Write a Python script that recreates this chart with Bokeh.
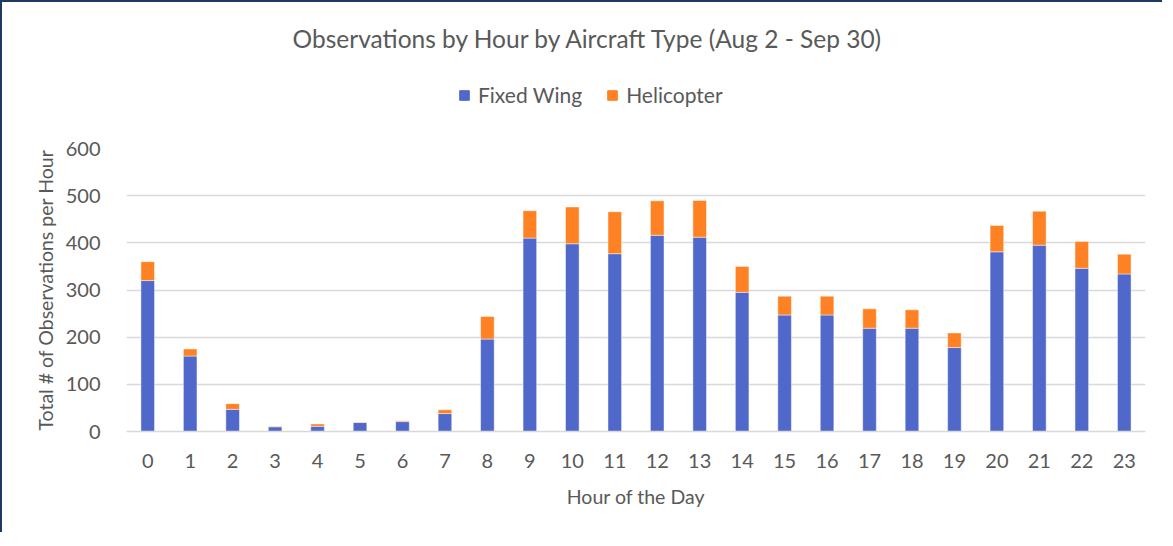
from bokeh.plotting import figure
from bokeh.models import ColumnDataSource, Legend, LegendItem, Label, FactorRange, CDSView, IndexFilter
from bokeh.layouts import column
from bokeh.embed import file_html
from bokeh.resources import INLINE

hours = [str(h) for h in range(24)]
fixed_wing = [320, 160, 47, 10, 11, 19, 21, 38, 196, 410, 398, 377, 416, 412, 295, 247, 247, 219, 219, 178, 381, 395, 346, 334]
helicopter = [40, 15, 12, 1, 5, 1, 2, 8, 48, 58, 78, 89, 73, 78, 55, 40, 40, 41, 39, 31, 56, 72, 57, 42]
series = ["Fixed Wing", "Helicopter"]
colors = ["#4F68C9", "#FE8223"]
y_ticks = [0, 100, 200, 300, 400, 500, 600]
title_text = "Observations by Hour by Aircraft Type (Aug 2 - Sep 30)"

FONT = "Lato"
TXT = "#595959"
W = 1160
HEAD_H = 110
MAIN_H = 420

src = ColumnDataSource(dict(hour=hours, fixed=fixed_wing, heli=helicopter))

# ---- header: title + legend ----
head = figure(width=W, height=HEAD_H, x_range=(0, 1), y_range=(0, 1),
              output_backend="svg", toolbar_location=None,
              min_border=0, min_border_left=124, min_border_right=17,
              min_border_top=0, min_border_bottom=0)
head.axis.visible = False
head.grid.visible = False
head.outline_line_color = None
head.border_fill_color = "white"
# legend-swatch renderers (hidden; they only provide the legend swatches)
one = CDSView(filter=IndexFilter(indices=[0]))
swatches = [head.vbar(x="fixed", top=col, width=0.3, color=c, source=src, view=one, visible=False)
            for col, c in zip(["fixed", "heli"], colors)]
legend = Legend(items=[LegendItem(label=s, renderers=[d]) for s, d in zip(series, swatches)],
                orientation="horizontal", location=(332, 5),
                glyph_width=12, glyph_height=12, label_standoff=8, spacing=24,
                padding=0, margin=0, border_line_color=None, background_fill_alpha=0,
                label_text_font=FONT, label_text_font_size="21px", label_text_color=TXT)
head.add_layout(legend, "center")
head.add_layout(Label(x=462, y=74, x_units="screen", y_units="screen", text=title_text,
                      text_align="center", text_baseline="middle",
                      text_font=FONT, text_font_size="24.5px", text_color=TXT))

# ---- main chart ----
p = figure(width=W, height=MAIN_H, x_range=FactorRange(*hours), y_range=(0, 600),
           output_backend="svg", toolbar_location=None,
           min_border_left=124, min_border_right=17, min_border_top=36, min_border_bottom=101)
p.outline_line_color = None
p.background_fill_color = "white"
p.border_fill_color = "white"

r = p.vbar_stack(["fixed", "heli"], x="hour", width=0.32, source=src,
                 color=colors, line_color="white", line_alpha=0.45, line_width=1)

p.xgrid.grid_line_color = None
p.ygrid.grid_line_color = "#D9D9D9"
p.ygrid.grid_line_width = 1.5
p.yaxis.ticker = y_ticks

p.yaxis.axis_line_color = None
p.yaxis.major_tick_line_color = None
p.yaxis.minor_tick_line_color = None
p.xaxis.axis_line_color = "#D9D9D9"
p.xaxis.axis_line_width = 1.5
p.xaxis.major_tick_line_color = None
p.xaxis.minor_tick_line_color = None

for ax in (p.xaxis, p.yaxis):
    ax.major_label_text_font = FONT
    ax.major_label_text_font_size = "20px"
    ax.major_label_text_color = TXT
    ax.axis_label_text_font = FONT
    ax.axis_label_text_font_size = "19.5px"
    ax.axis_label_text_font_style = "normal"
    ax.axis_label_text_color = TXT

p.xaxis.major_label_standoff = 16
p.yaxis.major_label_standoff = 20
p.xaxis.axis_label = "Hour of the Day"
p.yaxis.axis_label = "Total # of Observations per Hour"
p.xaxis.axis_label_standoff = 14
p.yaxis.axis_label_standoff = 6

layout = column(head, p, spacing=0)
layout.styles = {"border-left": "2px solid #1F3864", "border-top": "2px solid #1F3864"}

open("out.html", "w").write(file_html(layout, INLINE))
